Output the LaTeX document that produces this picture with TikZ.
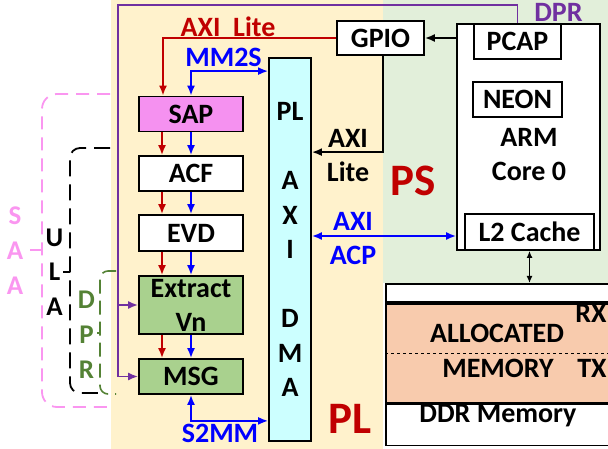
\documentclass[tikz,border=0pt]{standalone}
\usepackage{fontspec}
\setmainfont{Carlito}
\usetikzlibrary{arrows.meta,positioning}

\definecolor{plbg}{RGB}{255,242,204}
\definecolor{psbg}{RGB}{226,239,218}
\definecolor{dmacyan}{RGB}{204,255,255}
\definecolor{sappink}{RGB}{245,145,240}
\definecolor{blkgreen}{RGB}{169,209,142}
\definecolor{memorange}{RGB}{248,203,173}
\definecolor{axired}{RGB}{192,0,0}
\definecolor{dprpurple}{RGB}{112,48,160}
\definecolor{saapink}{RGB}{250,150,240}
\definecolor{dprgreen}{RGB}{84,130,53}

\tikzset{
  blk/.style={draw,line width=1.8pt,inner sep=0pt,minimum width=104pt,minimum height=35pt,align=center,fill=white},
  tip/.style={-{Latex[length=10pt,width=8pt]}},
  dtip/.style={{Latex[length=10pt,width=8pt]}-{Latex[length=10pt,width=8pt]}},
  redline/.style={axired,line width=1.7pt},
  blueline/.style={blue,line width=1.7pt},
  blkline/.style={black,line width=1.7pt},
  dprline/.style={dprpurple,line width=1.7pt},
  lbl/.style={inner sep=0pt,align=center},
  bigred/.style={lbl,axired,font=\fontsize{45}{45}\selectfont\bfseries},
}

\begin{document}
\begin{tikzpicture}[x=1pt,y=-1pt,font=\fontsize{28}{34}\selectfont\bfseries]
\useasboundingbox (0,0) rectangle (608,449);

% PL and PS regions
  \fill[plbg] (111,0) rectangle (383,449);
  \fill[psbg] (383,0) rectangle (608,283);

% processing chain
  \node[blk,fill=sappink] (sap) at (191,114) {SAP};
  \node[blk] (acf) at (191,173.5) {ACF};
  \node[blk,minimum height=36pt] (evd) at (191,233) {EVD};
  \node[blk,fill=blkgreen,minimum height=58pt] (ext) at (191,305) {Extract\\Vn};
  \node[blk,fill=blkgreen] (msg) at (191,376.5) {MSG};

% DMA, GPIO, ARM
  \node[blk,fill=dmacyan,minimum width=42pt,minimum height=383pt,font=\fontsize{28}{34.5}\selectfont\bfseries]
       (dma) at (290,249.5) {PL\\ \\A\\X\\I\\ \\D\\M\\A};
  \node[blk,minimum width=87pt,minimum height=34pt] (gpio) at (380.5,38) {GPIO};
  \node[blk,minimum width=143pt,minimum height=226pt] (arm) at (528.5,137) {};
  \node[blk,minimum width=87pt] (pcap) at (517.5,41.5) {PCAP};
  \node[blk,minimum width=89pt] (neon) at (517.5,99.5) {NEON};
  \node[lbl] (armtxt) at (529,155) {ARM\\Core 0};
  \node[blk,minimum width=129pt,minimum height=36pt] (l2) at (529.5,232) {L2 Cache};

% DDR memory
  \node[blk,minimum width=227pt,minimum height=18pt,anchor=north west] (memtop) at (385,283) {};
  \node[blk,fill=memorange,minimum width=227pt,minimum height=99pt,below=0pt of memtop] (memalloc) {};
  \node[blk,minimum width=227pt,minimum height=41pt,below=0pt of memalloc] (memddr) {};
  \draw[dashed,line width=1pt] (memalloc.west) -- (memalloc.east);
  \node[lbl,anchor=base] (alloc) at (497,342) {ALLOCATED};
  \node[lbl,anchor=base] (rx) at (591,322) {RX};
  \node[lbl,anchor=base] (mem) at (498,377) {MEMORY};
  \node[lbl,anchor=base] (tx) at (592,377) {TX};
  \node[lbl,anchor=base] (ddr) at (498,422) {DDR Memory};

% chain arrows
  \foreach \a/\b in {sap/acf,acf/evd,evd/ext,ext/msg}{
    \draw[redline,tip] ([xshift=-29pt]\a.south) -- ([xshift=-29pt]\b.north);
    \draw[blueline,tip] (\a.south) -- (\b.north);
  }

% AXI Lite from GPIO
  \draw[redline,tip] (gpio.west) -| ([xshift=-28pt]sap.north);
  \node[lbl,axired] (axilite) at (228,26.5) {AXI~~Lite};

% MM2S and S2MM
  \draw[blueline,dtip] (sap.north) |- ([yshift=-14pt]dma.north west);
  \node[lbl,blue] (mm2s) at (223.5,57.5) {MM2S};
  \draw[blueline,dtip] (msg.south) |- ([yshift=21pt]dma.south west);
  \node[lbl,blue] (s2mm) at (220,433) {S2MM};

% GPIO links
  \draw[blkline,tip] (arm.west |- gpio.east) -- (gpio.east);
  \draw[blkline,tip] ([xshift=2.5pt]gpio.south) |- ([yshift=-95pt]dma.north east);
  \node[lbl] (axil) at (348,156) {AXI\\Lite};

% ACP
  \coordinate (acp) at ([yshift=-4pt]l2.west -| arm.west);
  \draw[blueline,dtip] (acp) -- (acp -| dma.east);
  \node[lbl,blue] (axiacp) at (353,239) {AXI\\ACP};
  \draw[blkline,{Latex[length=7pt,width=6pt]}-{Latex[length=7pt,width=6pt]}] (l2.south) -- (l2.south |- memtop.north);

% DPR line
  \coordinate (dprtop) at (118,5);
  \draw[dprline,tip] (pcap.north) |- (dprtop) |- (msg.west);
  \draw[dprline,tip] (dprtop |- ext.west) -- (ext.west);
  \node[lbl,dprpurple] (dpr) at (558.5,12.5) {DPR};

% PS and PL
  \node[bigred] (ps) at (413.5,181) {PS};
  \node[bigred] (pl) at (350,418.5) {PL};

% dashed brackets at left
  \draw[saapink,line width=1.8pt,dash pattern=on 13pt off 8pt,rounded corners=15pt]
       (110,94) -- (42,94) -- (42,407) -- (110,407);
  \draw[saapink,line width=1.8pt] (42,250) -- (30,250);
  \node[lbl,saapink,font=\fontsize{27}{35}\selectfont\bfseries] (saa) at (15,251) {S\\A\\A};

  \draw[black,line width=1.8pt,dash pattern=on 16pt off 8pt,rounded corners=10pt]
       (110,148) -- (70,148) -- (70,393) -- (100,393);
  \draw[black,line width=1.8pt] (70,272) -- (63,272);
  \node[lbl,font=\fontsize{27}{34.5}\selectfont\bfseries] (ula) at (54.5,272) {U\\L\\A};

  \draw[dprgreen,line width=1.6pt,dash pattern=on 14pt off 7pt,rounded corners=8pt]
       (116,271) -- (100,271) -- (100,394) -- (116,394);
  \draw[dprgreen,line width=1.6pt] (100,333) -- (97,333);
  \node[lbl,dprgreen,font=\fontsize{27}{35}\selectfont\bfseries] (dprl) at (86.5,335) {D\\P\\R};

\end{tikzpicture}
\end{document}
